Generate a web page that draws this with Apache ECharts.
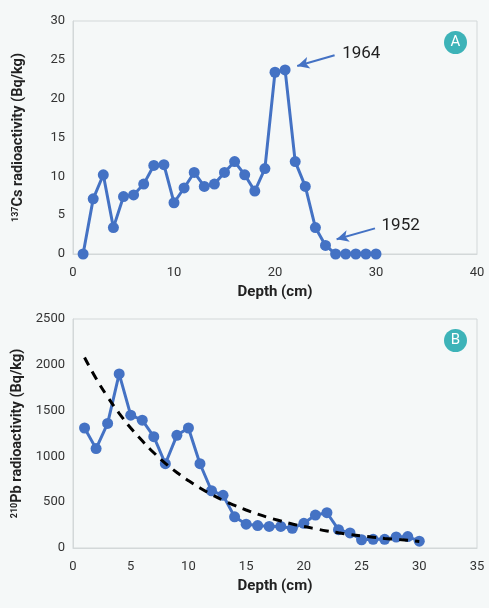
<!DOCTYPE html>
<html><head><meta charset="utf-8">
<script src="https://cdn.jsdelivr.net/npm/echarts@6/dist/echarts.min.js"></script>
<style>html,body{margin:0;padding:0;background:#f5f8f8;}#c{width:489px;height:608px;}</style>
</head><body><div id="c"></div>
<script>
// Panel A: 137Cs
var depthA = [1,2,3,4,5,6,7,8,9,10,11,12,13,14,15,16,17,18,19,20,21,22,23,24,25,26,27,28,29,30];
var cs137 = [0,7.1,10.2,3.4,7.4,7.6,9.0,11.4,11.5,6.6,8.5,10.5,8.7,9.0,10.5,11.9,10.2,8.1,11.0,23.4,23.7,11.9,8.7,3.4,1.1,0,0,0,0,0];
// Panel B: 210Pb
var depthB = [1,2,3,4,5,6,7,8,9,10,11,12,13,14,15,16,17,18,19,20,21,22,23,24,25,26,27,28,29,30];
var pb210 = [1310,1085,1360,1900,1450,1395,1215,920,1230,1310,920,625,575,340,260,245,235,235,215,270,360,385,200,165,90,95,95,120,125,75];
var pbTrend = [2080,1850,1650,1470,1310,1170,1040,925,825,735,655,585,520,465,415,370,330,295,262,235,210,186,166,148,132,118,105,94,84,72];
var xTicksA = {min:0, max:40, interval:10};
var yTicksA = {min:0, max:30, interval:5};
var xTicksB = {min:0, max:35, interval:5};
var yTicksB = {min:0, max:2500, interval:500};
var annotations = [
  {label:'1964', text:[26.6,25.8], from:[25.9,25.6], to:[22.2,24.2]},
  {label:'1952', text:[30.5,3.7], from:[29.9,3.3], to:[26.1,1.9]}
];

var blue = '#4472c4';
var gridLine = '#d3d8d9';
var font = 'Roboto, "Noto Sans", sans-serif';
function pair(xs, ys){ return xs.map(function(x,i){ return [x, ys[i]]; }); }
function plain(v){ return String(v); }

function xAxis(idx, t){
  return {gridIndex:idx, type:'value', min:t.min, max:t.max, interval:t.interval,
    name:'Depth (cm)', nameLocation:'middle', nameGap:31,
    nameTextStyle:{fontFamily:font, fontSize:15, fontWeight:'bold', color:'#222'},
    axisLine:{show:true, lineStyle:{color:gridLine, width:1}}, axisTick:{show:false},
    splitLine:{show:false},
    axisLabel:{fontFamily:font, fontSize:13, color:'#333', margin:12, formatter:plain}};
}
function yAxis(idx, t, sup, rest){
  return {gridIndex:idx, type:'value', min:t.min, max:t.max, interval:t.interval,
    name:'{sup|'+sup+'}{n|'+rest+'}', nameLocation:'middle', nameGap:47, nameRotate:90,
    nameTextStyle:{rich:{
      sup:{fontFamily:font, fontSize:9, fontWeight:'bold', color:'#222', verticalAlign:'top', padding:[0,0,6,0]},
      n:{fontFamily:font, fontSize:14.5, fontWeight:'bold', color:'#222'}}},
    axisLine:{show:true, lineStyle:{color:gridLine, width:1}}, axisTick:{show:false},
    splitLine:{show:false},
    axisLabel:{fontFamily:font, fontSize:13, color:'#333', margin:8, formatter:plain}};
}

var markLines = annotations.map(function(a){ return [{coord:a.from},{coord:a.to}]; });
var markPts = annotations.map(function(a){
  return {coord:a.text, symbol:'circle', symbolSize:1, itemStyle:{color:'rgba(0,0,0,0)'},
    label:{show:true, formatter:a.label, position:'right', distance:0, fontFamily:font, fontSize:17, color:'#222'}};
});

function badge(letter, cx, cy){
  return {type:'group', children:[
    {type:'circle', shape:{cx:cx, cy:cy, r:11.5}, style:{fill:'#3db3b8'}},
    {type:'text', x:cx, y:cy, style:{text:letter, fill:'#fff', font:'15px Roboto, sans-serif', align:'center', verticalAlign:'middle'}}
  ]};
}

var chart = echarts.init(document.getElementById('c'));
chart.setOption({
  backgroundColor:'#f5f8f8',
  animation:false,
  grid:[
    {left:73, right:12, top:21, bottom:354, show:true, borderColor:gridLine, borderWidth:1, backgroundColor:'transparent'},
    {left:73, right:12, top:319, bottom:60, show:true, borderColor:gridLine, borderWidth:1, backgroundColor:'transparent'}
  ],
  xAxis:[xAxis(0,xTicksA), xAxis(1,xTicksB)],
  yAxis:[yAxis(0,yTicksA,'137','Cs radioactivity (Bq/kg)'), yAxis(1,yTicksB,'210','Pb radioactivity (Bq/kg)')],
  series:[
    {type:'line', xAxisIndex:0, yAxisIndex:0, data:pair(depthA, cs137),
      symbol:'circle', symbolSize:11, lineStyle:{color:blue, width:3}, itemStyle:{color:blue},
      markLine:{silent:true, symbol:['none','arrow'], symbolSize:[9,12], label:{show:false},
        lineStyle:{color:blue, width:2, type:'solid'}, data:markLines},
      markPoint:{silent:true, data:markPts}},
    {type:'line', xAxisIndex:1, yAxisIndex:1, data:pair(depthB, pb210),
      symbol:'circle', symbolSize:11, lineStyle:{color:blue, width:3}, itemStyle:{color:blue}, z:2},
    {type:'line', xAxisIndex:1, yAxisIndex:1, data:pair(depthB, pbTrend), smooth:true,
      symbol:'none', lineStyle:{color:'#000', width:3, type:[9,7]}, z:3}
  ],
  graphic:[badge('A', 455.5, 42.5), badge('B', 455.5, 340.5)]
});
</script></body></html>
